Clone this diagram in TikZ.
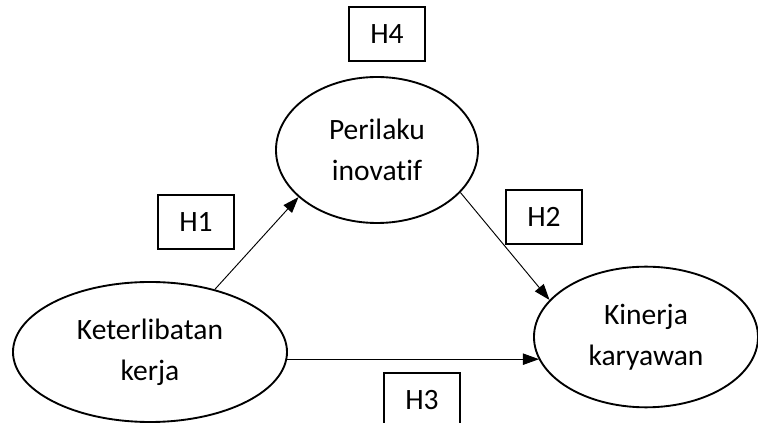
\documentclass[tikz,border=0pt]{standalone}
\usepackage{fontspec}
\setmainfont{Carlito}[Ligatures=NoCommon]
\usetikzlibrary{shapes.geometric,arrows.meta}

\begin{document}
\begin{tikzpicture}[x=0.015cm, y=-0.015cm,
            every node/.style={align=center, font=\fontsize{12.6}{17.5}\selectfont},
            var/.style={draw, ellipse, line width=0.8pt, inner sep=0pt},
            hyp/.style={draw, rectangle, line width=0.8pt, minimum width=1.14cm, minimum height=0.8cm}]
    \clip (0, 0) rectangle (758, 423);
    \node[var, minimum width=3.03cm, minimum height=2.19cm](pi) at (377, 150) {Perilaku\\inovatif};
    \node[var, minimum width=4.11cm, minimum height=2.1cm](kk) at (150, 352) {Keterlibatan\\kerja};
    \node[var, minimum width=3.36cm, minimum height=2.11cm](ky) at (646, 337) {Kinerja\\karyawan};

    \node[hyp](h4) at (387, 34) {H4};
    \node[hyp](h1) at (196, 222) {H1};
    \node[hyp](h2) at (544, 217) {H2};
    \node[hyp](h3) at (422, 400) {H3};

    \begin{scope}[-{Triangle[length=0.24cm, width=0.17cm]}, line width=0.4pt]
        \draw(kk.44)--(pi.211);
        \draw(pi.333)--(ky.159);
        \draw(kk.-3)--(kk.-3 -| ky.192);
    \end{scope}
\end{tikzpicture}
\end{document}
